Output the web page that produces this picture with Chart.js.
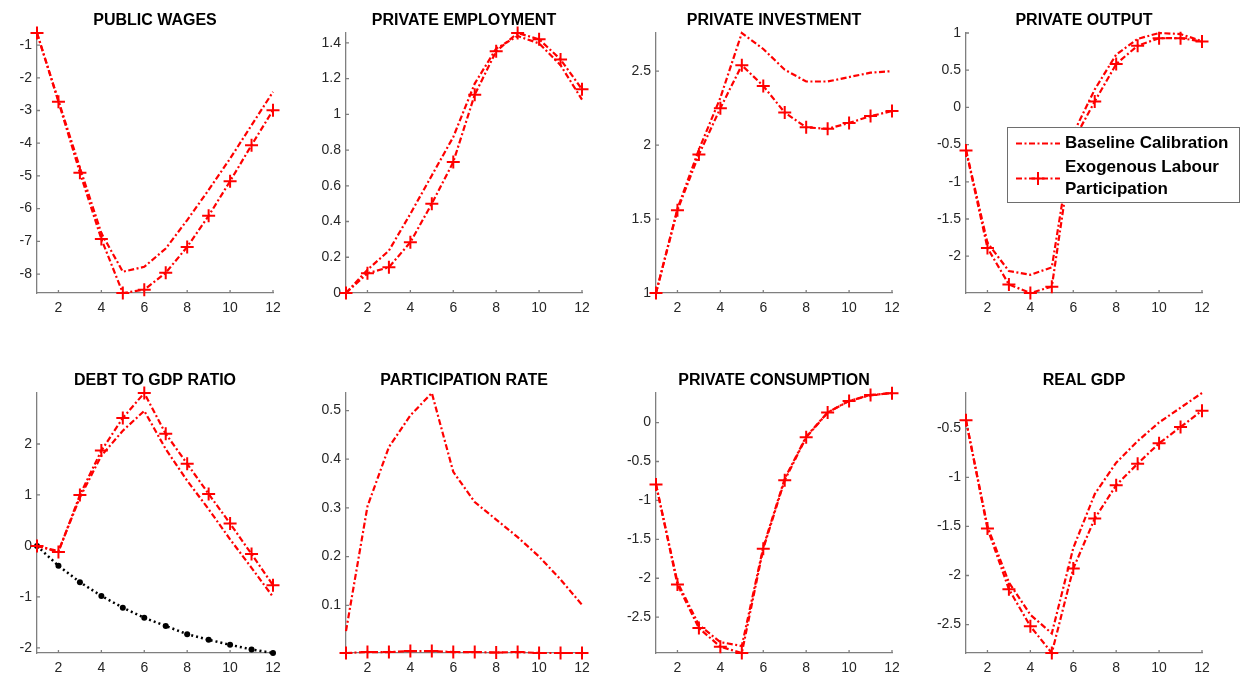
<!DOCTYPE html>
<html>
<head>
<meta charset="utf-8">
<script src="https://cdn.jsdelivr.net/npm/chart.js@4.4.1/dist/chart.umd.min.js"></script>
<style>
  html, body { margin: 0; padding: 0; background: #fff; }
  body { position: relative; width: 1243px; height: 679px; overflow: hidden; }
  canvas { position: absolute; }
</style>
</head>
<body>
<script>
// Horizon (quarters) shared by every panel
const steps = [1, 2, 3, 4, 5, 6, 7, 8, 9, 10, 11, 12];
const xTickValues = [2, 4, 6, 8, 10, 12];

// Series names for the legend
const baseLabel = ['Baseline Calibration'];
const exoLabel = ['Exogenous Labour', 'Participation'];

// PUBLIC WAGES
const publicWagesBase = [-0.63, -2.70, -4.75, -6.75, -7.93, -7.78, -7.22, -6.35, -5.43, -4.47, -3.45, -2.43];
const publicWagesExo  = [-0.63, -2.73, -4.90, -6.93, -8.58, -8.48, -7.96, -7.17, -6.22, -5.16, -4.06, -2.99];
const publicWagesTicks = [-8, -7, -6, -5, -4, -3, -2, -1];

// PRIVATE EMPLOYMENT
const privateEmploymentBase = [0, 0.13, 0.237, 0.443, 0.658, 0.873, 1.172, 1.368, 1.438, 1.397, 1.275, 1.082];
const privateEmploymentExo  = [0, 0.11, 0.144, 0.284, 0.50, 0.733, 1.11, 1.353, 1.455, 1.42, 1.307, 1.14];
const privateEmploymentTicks = [0, 0.2, 0.4, 0.6, 0.8, 1, 1.2, 1.4];

// PRIVATE INVESTMENT
const privateInvestmentBase = [1, 1.57, 1.97, 2.32, 2.758, 2.65, 2.51, 2.43, 2.43, 2.46, 2.49, 2.50];
const privateInvestmentExo  = [1, 1.56, 1.936, 2.25, 2.54, 2.40, 2.22, 2.12, 2.11, 2.15, 2.196, 2.23];
const privateInvestmentTicks = [1, 1.5, 2, 2.5];

// PRIVATE OUTPUT
const privateOutputBase = [-0.57, -1.82, -2.20, -2.25, -2.15, -0.35, 0.24, 0.71, 0.92, 1.0, 0.986, 0.89];
const privateOutputExo  = [-0.578, -1.89, -2.38, -2.495, -2.41, -0.45, 0.08, 0.583, 0.83, 0.93, 0.93, 0.887];
const privateOutputTicks = [-2, -1.5, -1, -0.5, 0, 0.5, 1];

// DEBT TO GDP RATIO
const debtBase = [0, -0.10, 0.95, 1.77, 2.26, 2.65, 1.90, 1.28, 0.72, 0.13, -0.43, -1.0];
const debtExo  = [0, -0.118, 1.0, 1.87, 2.51, 3.0, 2.2, 1.61, 1.02, 0.44, -0.16, -0.77];
const debtPath = [0, -0.39, -0.71, -0.98, -1.21, -1.41, -1.57, -1.73, -1.84, -1.94, -2.03, -2.10];
const debtTicks = [-2, -1, 0, 1, 2];

// PARTICIPATION RATE
const participationBase = [0.047, 0.303, 0.425, 0.49, 0.536, 0.374, 0.312, 0.276, 0.240, 0.200, 0.153, 0.101];
const participationExo  = [0.002, 0.004, 0.004, 0.006, 0.006, 0.004, 0.004, 0.003, 0.004, 0.002, 0.002, 0.002];
const participationTicks = [0.1, 0.2, 0.3, 0.4, 0.5];

// PRIVATE CONSUMPTION
const consumptionBase = [-0.794, -2.05, -2.60, -2.82, -2.87, -1.60, -0.72, -0.18, 0.13, 0.28, 0.35, 0.38];
const consumptionExo  = [-0.794, -2.08, -2.64, -2.88, -2.96, -1.62, -0.74, -0.19, 0.128, 0.278, 0.355, 0.377];
const consumptionTicks = [-2.5, -2, -1.5, -1, -0.5, 0];

// REAL GDP
const gdpBase = [-0.418, -1.50, -2.07, -2.40, -2.59, -1.72, -1.17, -0.85, -0.63, -0.44, -0.29, -0.14];
const gdpExo  = [-0.418, -1.52, -2.14, -2.517, -2.79, -1.93, -1.42, -1.08, -0.86, -0.653, -0.487, -0.32];
const gdpTicks = [-2.5, -2, -1.5, -1, -0.5];

const panels = [
  { title: 'PUBLIC WAGES',        base: publicWagesBase,        exo: publicWagesExo,        ticks: publicWagesTicks },
  { title: 'PRIVATE EMPLOYMENT',  base: privateEmploymentBase,  exo: privateEmploymentExo,  ticks: privateEmploymentTicks },
  { title: 'PRIVATE INVESTMENT',  base: privateInvestmentBase,  exo: privateInvestmentExo,  ticks: privateInvestmentTicks },
  { title: 'PRIVATE OUTPUT',      base: privateOutputBase,      exo: privateOutputExo,      ticks: privateOutputTicks, legend: true },
  { title: 'DEBT TO GDP RATIO',   base: debtBase,               exo: debtExo,               ticks: debtTicks, extra: debtPath },
  { title: 'PARTICIPATION RATE',  base: participationBase,      exo: participationExo,      ticks: participationTicks },
  { title: 'PRIVATE CONSUMPTION', base: consumptionBase,        exo: consumptionExo,        ticks: consumptionTicks },
  { title: 'REAL GDP',            base: gdpBase,                exo: gdpExo,                ticks: gdpTicks }
];

// Grid geometry
const colLeft = [0, 309, 619, 929];
const colWidth = [309, 310, 310, 314];
const rowTop = [0, 360];
const rowHeight = [330, 319];
const axisBand = 37;     // room for y tick labels
const plotWidth = 236;
const plotHeight = 260;
const titleBand = 33;

const FONT = "'Liberation Sans', Arial, Helvetica, sans-serif";
const RED = '#ff0000';
const AXIS = '#7f7f7f';
const dashDot = [6, 2.5, 2, 2.5];

const toPoints = arr => steps.map((s, i) => ({ x: s, y: arr[i] }));

// Short inward tick marks on both axes
const inwardTicks = {
  id: 'inwardTicks',
  beforeDatasetsDraw(chart) {
    const { ctx, chartArea, scales } = chart;
    ctx.save();
    ctx.strokeStyle = AXIS;
    ctx.lineWidth = 1.3;
    ctx.beginPath();
    scales.x.ticks.forEach(t => {
      const px = scales.x.getPixelForValue(t.value);
      ctx.moveTo(px, chartArea.bottom);
      ctx.lineTo(px, chartArea.bottom - 3);
    });
    scales.y.ticks.forEach(t => {
      const py = scales.y.getPixelForValue(t.value);
      ctx.moveTo(chartArea.left, py);
      ctx.lineTo(chartArea.left + 3, py);
    });
    ctx.stroke();
    ctx.restore();
  }
};

// Boxed legend placed inside the plot area
const boxedLegend = {
  id: 'boxedLegend',
  afterDraw(chart, args, opts) {
    if (!opts.show) return;
    const { ctx, chartArea } = chart;
    const x0 = chartArea.left + 41, y0 = chartArea.top + 94, w = 232, h = 75;
    ctx.save();
    ctx.fillStyle = '#fff';
    ctx.fillRect(x0, y0, w, h);
    ctx.strokeStyle = '#6e6e6e';
    ctx.lineWidth = 1;
    ctx.strokeRect(x0 + 0.5, y0 + 0.5, w, h);

    const sx0 = x0 + 9, sx1 = x0 + 53, tx = x0 + 58;
    const rowY1 = y0 + 16.5;
    const rowY2 = [y0 + 40, y0 + 62.5];
    const markY = y0 + 51.5;

    ctx.strokeStyle = RED;
    ctx.lineWidth = 2.2;
    ctx.setLineDash(dashDot);
    ctx.beginPath(); ctx.moveTo(sx0, rowY1); ctx.lineTo(sx1, rowY1); ctx.stroke();
    ctx.beginPath(); ctx.moveTo(sx0, markY); ctx.lineTo(sx1, markY); ctx.stroke();
    ctx.setLineDash([]);
    const mx = (sx0 + sx1) / 2;
    ctx.lineWidth = 2;
    ctx.beginPath();
    ctx.moveTo(mx - 6.5, markY); ctx.lineTo(mx + 6.5, markY);
    ctx.moveTo(mx, markY - 6.5); ctx.lineTo(mx, markY + 6.5);
    ctx.stroke();

    ctx.fillStyle = '#000';
    ctx.font = 'bold 17px ' + FONT;
    ctx.textAlign = 'left';
    ctx.textBaseline = 'middle';
    ctx.fillText(baseLabel[0], tx, rowY1);
    exoLabel.forEach((line, i) => ctx.fillText(line, tx, rowY2[i]));
    ctx.restore();
  }
};

panels.forEach((p, idx) => {
  const col = idx % 4, row = Math.floor(idx / 4);
  const canvas = document.createElement('canvas');
  canvas.width = colWidth[col];
  canvas.height = rowHeight[row];
  canvas.style.left = colLeft[col] + 'px';
  canvas.style.top = rowTop[row] + 'px';
  canvas.style.width = colWidth[col] + 'px';
  canvas.style.height = rowHeight[row] + 'px';
  document.body.appendChild(canvas);

  const all = p.base.concat(p.exo, p.extra || []);
  const yMin = Math.min(...all), yMax = Math.max(...all);

  const datasets = [
    {
      label: baseLabel.join(' '),
      data: toPoints(p.base),
      borderColor: RED, borderWidth: 2.2, borderDash: dashDot,
      pointRadius: 0, tension: 0, fill: false, clip: false
    },
    {
      label: exoLabel.join(' '),
      data: toPoints(p.exo),
      borderColor: RED, borderWidth: 2.2, borderDash: dashDot,
      pointStyle: 'cross', pointRadius: 6.5, pointBorderWidth: 2,
      pointBorderColor: RED, pointBackgroundColor: RED,
      tension: 0, fill: false, clip: false
    }
  ];
  if (p.extra) {
    datasets.push({
      label: 'path',
      data: toPoints(p.extra),
      borderColor: '#000', borderWidth: 2.5, borderDash: [2, 3],
      pointStyle: 'circle', pointRadius: 3, pointBorderWidth: 0,
      pointBackgroundColor: '#000',
      tension: 0, fill: false, clip: false
    });
  }

  new Chart(canvas, {
    type: 'line',
    data: { datasets },
    plugins: [inwardTicks, boxedLegend],
    options: {
      responsive: false,
      animation: false,
      devicePixelRatio: 1,
      events: [],
      layout: { padding: { top: 0, left: 0, bottom: 0, right: colWidth[col] - axisBand - plotWidth } },
      plugins: {
        legend: { display: false },
        tooltip: { enabled: false },
        title: {
          display: true,
          fullSize: false,
          text: p.title,
          color: '#000',
          font: { family: FONT, size: 16, weight: 'bold', lineHeight: 1.2 },
          padding: { top: 11, bottom: titleBand - 11 - 19.2 }
        },
        boxedLegend: { show: !!p.legend }
      },
      scales: {
        x: {
          type: 'linear',
          min: steps[0],
          max: steps[steps.length - 1],
          grid: { display: false, drawTicks: false },
          border: { display: true, color: AXIS, width: 1.3 },
          ticks: {
            color: '#262626',
            font: { family: FONT, size: 14 },
            padding: 7,
            maxRotation: 0,
            callback: v => String(v)
          },
          afterBuildTicks: s => { s.ticks = xTickValues.map(v => ({ value: v })); },
          afterFit: s => { s.height = rowHeight[row] - titleBand - plotHeight; }
        },
        y: {
          type: 'linear',
          min: yMin,
          max: yMax,
          grid: { display: false, drawTicks: false },
          border: { display: true, color: AXIS, width: 1.3 },
          ticks: {
            color: '#262626',
            font: { family: FONT, size: 14 },
            padding: 5,
            callback: v => String(v)
          },
          afterBuildTicks: s => { s.ticks = p.ticks.map(v => ({ value: v })); },
          afterFit: s => { s.width = axisBand; }
        }
      }
    }
  });
});
</script>
</body>
</html>
